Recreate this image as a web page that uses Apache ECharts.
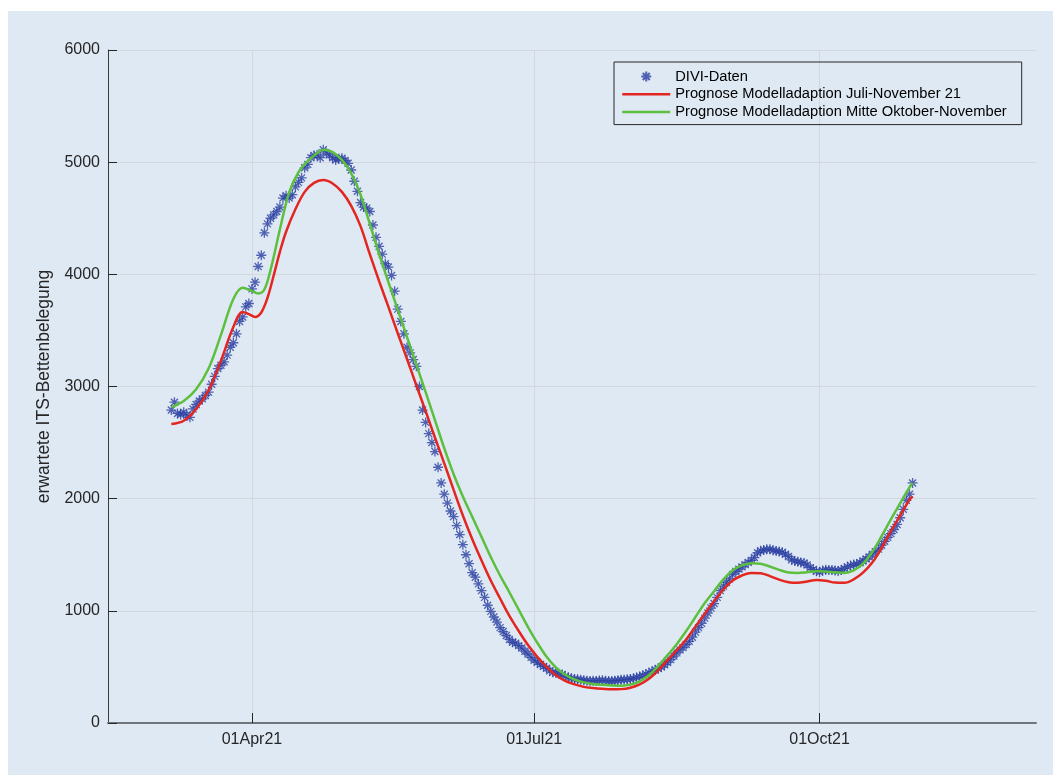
<!DOCTYPE html>
<html><head><meta charset="utf-8">
<script src="https://cdn.jsdelivr.net/npm/echarts@6/dist/echarts.min.js"></script>
<style>
html,body{margin:0;padding:0;background:#fff;}
#bg{position:absolute;left:8px;top:11px;width:1045px;height:764px;background:#dfe9f4;}
#chart{position:absolute;left:0;top:0;width:1053px;height:775px;}
</style></head><body>
<div id="bg"></div><div id="chart"></div>
<script>
// ---------- data ----------
const seriesNames = ['DIVI-Daten', 'Prognose Modelladaption Juli-November 21', 'Prognose Modelladaption Mitte Oktober-November'];
const xTickDates = ['2021-04-01', '2021-07-01', '2021-10-01'];
const yTickValues = [0, 1000, 2000, 3000, 4000, 5000, 6000];

const diviStart = '2021-03-06';
const diviValues = [
 2790,2860,2760,2750,2770,2745,2725,2800,2840,2870,
 2890,2920,2950,3020,3090,3160,3190,3220,3280,3350,
 3390,3470,3580,3620,3710,3740,3870,3930,4070,4170,
 4370,4450,4500,4530,4560,4600,4680,4700,4680,4710,
 4780,4820,4860,4950,4980,5040,5060,5065,5040,5110,
 5080,5065,5040,5020,5030,5035,5015,4990,4930,4830,
 4740,4640,4600,4590,4560,4440,4330,4250,4180,4095,
 4065,3990,3850,3690,3580,3470,3350,3300,3240,3180,
 3000,2790,2680,2580,2500,2420,2280,2140,2040,1960,
 1890,1840,1760,1680,1590,1500,1420,1340,1300,1240,
 1180,1120,1050,995,945,900,850,815,780,745,
 720,712,690,668,640,615,585,560,542,522,
 505,488,465,453,446,440,432,416,407,400,
 393,389,386,382,377,375,376,374,379,382,
 376,375,374,377,381,385,386,389,393,398,
 405,414,424,436,447,460,473,486,499,520,
 540,565,597,625,652,672,700,728,765,810,
 850,888,935,980,1025,1065,1120,1180,1220,1255,
 1285,1325,1350,1372,1392,1412,1432,1450,1475,1518,
 1535,1543,1548,1550,1540,1533,1530,1522,1505,1485,
 1455,1445,1437,1432,1426,1408,1385,1368,1352,1346,
 1360,1366,1364,1365,1360,1355,1365,1378,1392,1405,
 1412,1418,1428,1445,1462,1480,1505,1528,1550,1585,
 1620,1655,1688,1725,1770,1830,1905,1985,2040,2140
];

const redDates = ['2021-03-06','2021-03-10','2021-03-14','2021-03-18','2021-03-22','2021-03-26','2021-03-29','2021-03-31',
 '2021-04-02','2021-04-04','2021-04-06','2021-04-08','2021-04-10','2021-04-12','2021-04-15','2021-04-18','2021-04-21','2021-04-24',
 '2021-04-27','2021-04-30','2021-05-03','2021-05-06','2021-05-09','2021-05-12','2021-05-15','2021-05-18','2021-05-21','2021-05-24',
 '2021-05-27','2021-05-30','2021-06-02','2021-06-05','2021-06-08','2021-06-11','2021-06-14','2021-06-17','2021-06-20','2021-06-23',
 '2021-06-26','2021-06-29','2021-07-02','2021-07-05','2021-07-08','2021-07-11','2021-07-14','2021-07-17','2021-07-20','2021-07-23',
 '2021-07-26','2021-07-29','2021-08-01','2021-08-04','2021-08-07','2021-08-10','2021-08-13','2021-08-16','2021-08-19','2021-08-22',
 '2021-08-25','2021-08-28','2021-08-31','2021-09-03','2021-09-06','2021-09-09','2021-09-12','2021-09-15','2021-09-18','2021-09-21',
 '2021-09-24','2021-09-27','2021-09-30','2021-10-03','2021-10-06','2021-10-09','2021-10-12','2021-10-15','2021-10-18','2021-10-21',
 '2021-10-24','2021-10-27','2021-10-30','2021-10-31'];
const redValues = [2665,2695,2800,2965,3230,3530,3665,3645,
 3620,3660,3790,3990,4200,4380,4580,4735,4815,4840,
 4810,4735,4610,4430,4180,3940,3710,3475,3245,3010,
 2780,2545,2315,2080,1850,1640,1450,1270,1110,955,
 820,695,590,500,425,375,345,322,312,305,
 300,302,315,345,395,470,560,650,745,860,
 975,1085,1190,1270,1315,1338,1335,1310,1278,1255,
 1250,1262,1275,1268,1252,1250,1280,1340,1430,1560,
 1710,1850,1990,2020];

const greenDates = ['2021-03-06','2021-03-10','2021-03-14','2021-03-18','2021-03-22','2021-03-26','2021-03-29','2021-04-01',
 '2021-04-03','2021-04-05','2021-04-07','2021-04-10','2021-04-13','2021-04-16','2021-04-19','2021-04-22','2021-04-24',
 '2021-04-27','2021-04-30','2021-05-03','2021-05-06','2021-05-09','2021-05-12','2021-05-15','2021-05-18','2021-05-21','2021-05-24',
 '2021-05-27','2021-05-30','2021-06-02','2021-06-05','2021-06-08','2021-06-11','2021-06-14','2021-06-17','2021-06-20','2021-06-23',
 '2021-06-26','2021-06-29','2021-07-02','2021-07-05','2021-07-08','2021-07-11','2021-07-14','2021-07-17','2021-07-20','2021-07-23',
 '2021-07-26','2021-07-29','2021-08-01','2021-08-04','2021-08-07','2021-08-10','2021-08-13','2021-08-16','2021-08-19','2021-08-22',
 '2021-08-25','2021-08-28','2021-08-31','2021-09-03','2021-09-06','2021-09-09','2021-09-12','2021-09-15','2021-09-18','2021-09-21',
 '2021-09-24','2021-09-27','2021-09-30','2021-10-03','2021-10-06','2021-10-09','2021-10-12','2021-10-15','2021-10-18','2021-10-21',
 '2021-10-24','2021-10-27','2021-10-30','2021-10-31'];
const greenValues = [2815,2870,2975,3160,3460,3780,3880,3850,
 3830,3865,4040,4400,4730,4910,5010,5080,5110,
 5090,5020,4900,4710,4450,4180,3930,3685,3440,3195,
 2950,2700,2450,2220,2020,1840,1660,1480,1315,1165,
 1010,855,715,590,495,430,388,362,348,340,
 335,332,342,372,425,510,605,705,820,945,
 1070,1175,1280,1362,1405,1425,1420,1395,1365,1342,
 1338,1345,1352,1350,1343,1338,1360,1420,1525,1665,
 1815,1960,2100,2140];

// ---------- helpers ----------
function toTs(s) { const p = s.split('-').map(Number); return new Date(p[0], p[1] - 1, p[2]).getTime(); }
const MONTHS = ['Jan','Feb','Mar','Apr','May','Jun','Jul','Aug','Sep','Oct','Nov','Dec'];
function fmtDate(v) {
  const d = new Date(v);
  const dd = String(d.getDate()).padStart(2, '0');
  return dd + MONTHS[d.getMonth()] + String(d.getFullYear()).slice(2);
}
const s0 = diviStart.split('-').map(Number);
const diviData = diviValues.map((v, i) => [new Date(s0[0], s0[1] - 1, s0[2] + i).getTime(), v]);
const redData = redDates.map((d, i) => [toTs(d), redValues[i]]);
const greenData = greenDates.map((d, i) => [toTs(d), greenValues[i]]);
const xTicks = xTickDates.map(toTs);

const FONT = 'Liberation Sans, Arial, sans-serif';
const TXT = '#262626';
const RED = '#e3261f', GREEN = '#5cbf3d', BLUE = '#2b3fa0';
const NOFILL = 'rgba(0,0,0,0)';

const chart = echarts.init(document.getElementById('chart'), null, {renderer: 'canvas'});
chart.setOption({
  animation: false,
  backgroundColor: 'transparent',
  grid: {left: 108, right: 17, top: 50, bottom: 52},
  legend: {
    orient: 'vertical', left: 614, top: 62,
    padding: [7, 15, 5, 7],
    itemWidth: 48, itemHeight: 10, itemGap: 2.8,
    borderColor: '#262626', borderWidth: 1, borderRadius: 0,
    textStyle: {fontFamily: FONT, fontSize: 14.7, color: '#000', lineHeight: 15},
    data: [
      {name: seriesNames[0]},
      {name: seriesNames[1], itemStyle: {opacity: 0, color: NOFILL, borderColor: NOFILL}, lineStyle: {color: RED, width: 2.5}},
      {name: seriesNames[2], itemStyle: {opacity: 0, color: NOFILL, borderColor: NOFILL}, lineStyle: {color: GREEN, width: 2.5}}
    ]
  },
  xAxis: {
    type: 'value',
    min: new Date(2021, 1, 13, 14).getTime(),
    max: new Date(2021, 11, 9, 19).getTime(),
    axisLine: {show: true, onZero: false, lineStyle: {color: '#70757c', width: 2}},
    axisTick: {show: true, inside: true, length: 10, customValues: xTicks, lineStyle: {color: TXT, width: 1}},
    axisLabel: {customValues: xTicks, formatter: fmtDate, fontFamily: FONT, fontSize: 16, color: TXT, margin: 9},
    splitLine: {show: true, lineStyle: {color: '#d3d8de', width: 1}}
  },
  yAxis: {
    type: 'value', min: yTickValues[0], max: yTickValues[yTickValues.length - 1], interval: 1000,
    name: 'erwartete ITS-Bettenbelegung', nameLocation: 'middle', nameGap: 47,
    nameTextStyle: {fontFamily: FONT, fontSize: 17.5, color: TXT},
    axisLine: {show: true, lineStyle: {color: '#3a3a3a', width: 1}},
    axisTick: {show: true, inside: true, length: 9, lineStyle: {color: TXT, width: 1}},
    axisLabel: {formatter: v => String(v), fontFamily: FONT, fontSize: 16, color: TXT, margin: 8},
    splitLine: {show: true, lineStyle: {color: '#d3d8de', width: 1}}
  },
  series: [
    {
      name: seriesNames[0], type: 'scatter', data: diviData,
      symbol: 'path://M5,0L5,10M0,5L10,5M1.5,1.5L8.5,8.5M1.5,8.5L8.5,1.5',
      symbolSize: 10,
      itemStyle: {color: NOFILL, borderColor: BLUE, borderWidth: 1.3},
      z: 2
    },
    {
      name: seriesNames[1], type: 'line', data: redData, smooth: 0.35,
      symbol: 'none', showSymbol: false,
      lineStyle: {color: RED, width: 2.5}, itemStyle: {color: RED},
      z: 3
    },
    {
      name: seriesNames[2], type: 'line', data: greenData, smooth: 0.35,
      symbol: 'none', showSymbol: false,
      lineStyle: {color: GREEN, width: 2.5}, itemStyle: {color: GREEN},
      z: 4
    }
  ]
});
</script>
</body></html>
